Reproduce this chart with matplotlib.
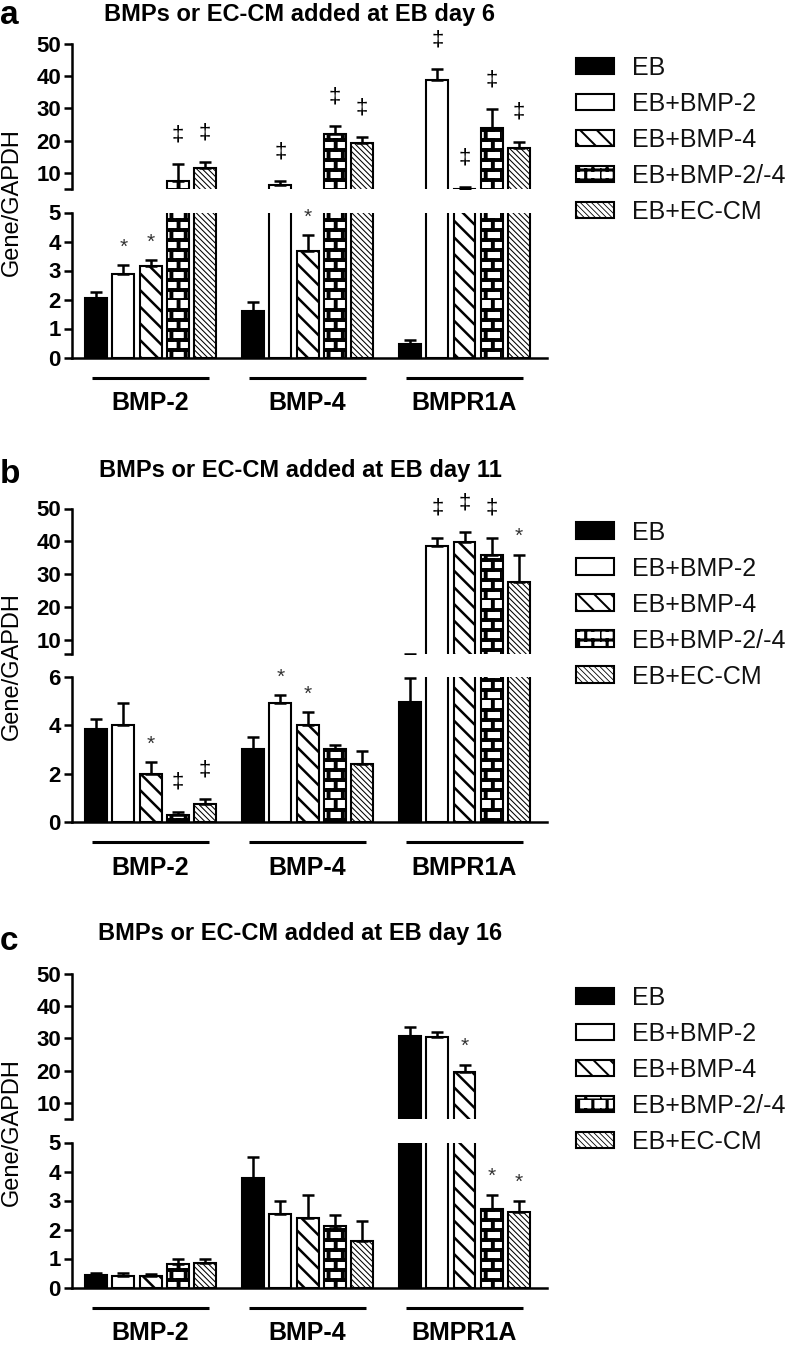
import numpy as np
import matplotlib
matplotlib.use("Agg")
import matplotlib as mpl
import matplotlib.pyplot as plt
from matplotlib import hatch as mhatch
from matplotlib.path import Path
from matplotlib.patches import Patch
from matplotlib.transforms import blended_transform_factory

plt.rcParams['font.family'] = ['Liberation Sans', 'DejaVu Sans']

# ---- data ----
genes = ['BMP-2', 'BMP-4', 'BMPR1A']
treatments = ['EB', 'EB+BMP-2', 'EB+BMP-4', 'EB+BMP-2/-4', 'EB+EC-CM']
titles = ['BMPs or EC-CM added at EB day 6',
          'BMPs or EC-CM added at EB day 11',
          'BMPs or EC-CM added at EB day 16']
panel_tags = ['a', 'b', 'c']

# rows = gene, columns = treatment
day6_mean = [[2.04, 2.87, 3.15, 7.4, 11.6],
             [1.62, 6.3, 3.68, 22.2, 19.4],
             [0.46, 38.8, 5.1, 24.0, 17.8]]
day6_err = [[0.23, 0.32, 0.21, 5.4, 1.7],
            [0.28, 1.2, 0.54, 2.3, 1.7],
            [0.15, 3.4, 0.4, 5.7, 1.9]]
day6_sig = [['', '*', '*', '‡', '‡'],
            ['', '‡', '*', '‡', '‡'],
            ['', '‡', '‡', '‡', '‡']]

day11_mean = [[3.85, 4.02, 1.98, 0.30, 0.73],
              [3.02, 4.92, 4.02, 3.02, 2.42],
              [4.98, 38.7, 39.8, 35.8, 27.7]]
day11_err = [[0.42, 0.90, 0.49, 0.13, 0.21],
             [0.51, 0.32, 0.52, 0.17, 0.53],
             [0.99, 2.5, 3.0, 5.4, 8.3]]
day11_sig = [['', '', '*', '‡', '‡'],
             ['', '*', '*', '', ''],
             ['', '‡', '‡', '‡', '*']]

day16_mean = [[0.42, 0.40, 0.38, 0.80, 0.86],
              [3.78, 2.54, 2.39, 2.12, 1.60],
              [30.7, 30.5, 19.7, 2.72, 2.60]]
day16_err = [[0.07, 0.09, 0.08, 0.20, 0.14],
             [0.72, 0.46, 0.81, 0.37, 0.69],
             [3.0, 1.6, 2.2, 0.48, 0.40]]
day16_sig = [['', '', '', '', ''],
             ['', '', '', '', ''],
             ['', '', '*', '*', '*']]

lower_top = [5, 6, 5]
lower_ticks = [[0, 1, 2, 3, 4, 5], [0, 2, 4, 6], [0, 1, 2, 3, 4, 5]]
upper_ticks = [10, 20, 30, 40, 50]


# brick pattern for EB+BMP-2/-4 (replaces the star hatch '*')
class BrickHatch(mhatch.HatchPatternBase):
    def __init__(self, hatch, density):
        self.rows = 10
        self.cols = 7
        if '*' in hatch:
            self.num_vertices = self.rows * 2 + self.rows * self.cols * 2
        else:
            self.num_vertices = 0

    def set_vertices_and_codes(self, vertices, codes):
        pts = []
        for r in range(self.rows):
            y0 = r / self.rows
            y1 = (r + 1) / self.rows
            pts += [(0, y0), (1, y0)]
            shift = 0.5 * (r % 2)
            for k in range(self.cols):
                x = ((k + shift) / self.cols) % 1.0
                pts += [(x, y0), (x, y1)]
        vertices[:] = pts
        codes[0::2] = Path.MOVETO
        codes[1::2] = Path.LINETO


mhatch._hatch_types = [t for t in mhatch._hatch_types if t is not mhatch.Stars] + [BrickHatch]

faces = ['black', 'white', 'white', 'white', 'white']
hatches = [None, None, '\\\\', '*', '\\' * 6]
hatch_lw = [1.0, 1.0, 1.8, 2.8, 0.75]


def set_hatch_lw(artist, lw):
    # depending on the version, hatch width is read at creation or at draw
    if hasattr(artist, 'set_hatch_linewidth'):
        artist.set_hatch_linewidth(lw)
    if hasattr(artist, '_hatch_linewidth'):
        artist._hatch_linewidth = lw
    orig = artist.draw

    def draw(renderer):
        with mpl.rc_context({'hatch.linewidth': lw}):
            orig(renderer)
    artist.draw = draw


W, H = 792, 1355
fig = plt.figure(figsize=(W / 100, H / 100), dpi=100)


def px_axes(x0, y0, x1, y1):
    return fig.add_axes([x0 / W, 1 - y1 / H, (x1 - x0) / W, (y1 - y0) / H])


group_step = 5.75
xpos = [[g * group_step + i for i in range(5)] for g in range(3)]
bw = 0.8
ax_left, ax_right = 72, 547
tops = [44, 508.5, 974]
title_base = [21, 477, 940]
letter_base = [24, 483, 950]

means_all = [day6_mean, day11_mean, day16_mean]
errs_all = [day6_err, day11_err, day16_err]
sigs_all = [day6_sig, day11_sig, day16_sig]

for p in range(3):
    t = tops[p]
    up = px_axes(ax_left, t, ax_right, t + 145)
    lo = px_axes(ax_left, t + 168.5, ax_right, t + 313.5)
    lt = lower_top[p]

    for ax in (up, lo):
        for g in range(3):
            for i in range(5):
                with mpl.rc_context({'hatch.linewidth': hatch_lw[i]}):
                    b = ax.bar(xpos[g][i], means_all[p][g][i], width=bw,
                               color=faces[i], edgecolor='black', linewidth=1.5,
                               hatch=hatches[i], zorder=2)
                set_hatch_lw(b[0], hatch_lw[i])
            ax.errorbar(xpos[g], means_all[p][g],
                        yerr=[np.zeros(5), errs_all[p][g]], fmt='none',
                        ecolor='black', elinewidth=1.8, capsize=4.5,
                        capthick=1.8, zorder=3)
        ax.set_xlim(-0.88, 16.52)
        for s in ('top', 'right'):
            ax.spines[s].set_visible(False)
        ax.spines['left'].set_linewidth(1.8)
        ax.spines['bottom'].set_linewidth(1.8)
        ax.tick_params(axis='y', length=6, width=1.8, pad=2, labelsize=16)
        ax.tick_params(axis='x', bottom=False, labelbottom=False)

    up.spines['bottom'].set_visible(False)
    up.set_ylim(lt, 50)
    up.set_yticks([lt] + upper_ticks)
    up.set_yticklabels([''] + [str(v) for v in upper_ticks], fontweight='bold')
    lo.set_ylim(0, lt)
    lo.set_yticks(lower_ticks[p])
    lo.set_yticklabels([str(v) for v in lower_ticks[p]], fontweight='bold')

    # significance marks
    for g in range(3):
        for i in range(5):
            s = sigs_all[p][g][i]
            if not s:
                continue
            top = means_all[p][g][i] + errs_all[p][g][i]
            ax = lo if top <= lt else up
            if s == '‡':
                ax.annotate(s, (xpos[g][i], top), xytext=(0, 21),
                            textcoords='offset points', ha='center', va='center',
                            fontsize=16, annotation_clip=False)
            else:
                ax.annotate(s, (xpos[g][i], top), xytext=(0, 13),
                            textcoords='offset points', ha='center', va='center',
                            fontsize=15, color='#333333', annotation_clip=False)

    # gene group underlines and names
    tr = blended_transform_factory(lo.transData, lo.transAxes)
    for g in range(3):
        c = g * group_step + 2
        lo.plot([c - 2.15, c + 2.15], [-20 / 145, -20 / 145], color='black',
                lw=2.2, transform=tr, clip_on=False, solid_capstyle='butt')
        lo.text(c, -46 / 145, genes[g], transform=tr, ha='center', va='center',
                fontsize=18, fontweight='bold')

    fig.text(300 / W, 1 - title_base[p] / H, titles[p], ha='center',
             va='baseline', fontsize=17, fontweight='bold')
    fig.text(0, 1 - letter_base[p] / H, panel_tags[p], ha='left',
             va='baseline', fontsize=24, fontweight='bold')
    fig.text(12 / W, 1 - (t + 158) / H, 'Gene/GAPDH', rotation=90,
             ha='center', va='center', fontsize=17)

    handles = [Patch(facecolor=faces[i], edgecolor='black', linewidth=1.5,
                     hatch=hatches[i]) for i in range(5)]
    leg = fig.legend(handles, treatments, loc='upper left',
                     bbox_to_anchor=(576 / W, 1 - (t + 12) / H),
                     bbox_transform=fig.transFigure, frameon=False, borderpad=0,
                     borderaxespad=0, fontsize=18, handlelength=1.5,
                     handleheight=0.64, handletextpad=0.76, labelspacing=0.48,
                     labelcolor='#111111')
    for h, lw in zip(leg.legend_handles, hatch_lw):
        set_hatch_lw(h, lw * 0.8)

fig.savefig('out.png', dpi=100)
